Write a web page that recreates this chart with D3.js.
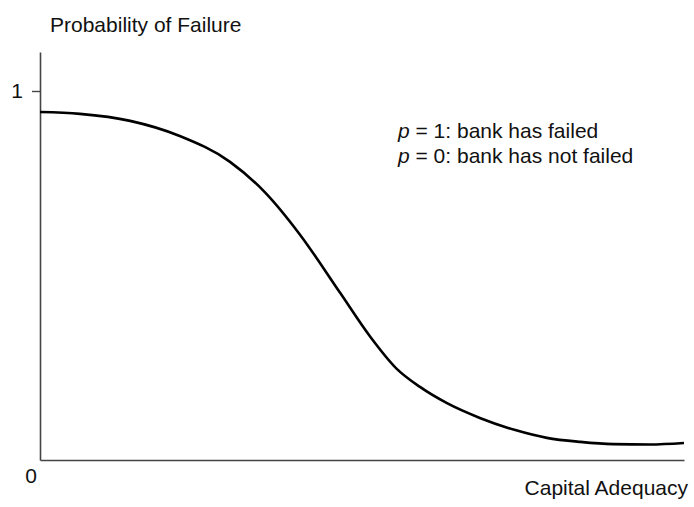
<!DOCTYPE html>
<html>
<head>
<meta charset="utf-8">
<script src="https://cdn.jsdelivr.net/npm/d3@7"></script>
<style>
  html, body { margin: 0; padding: 0; background: #fff; }
  svg { display: block; font-family: "Liberation Sans", Arial, Helvetica, sans-serif; }
</style>
</head>
<body>
<svg id="chart" width="694" height="507"></svg>
<script>
// Capital adequacy (0–100 scale) vs. probability of bank failure
const capitalAdequacy = [0, 6.2, 14.0, 21.7, 29.5, 34.9, 40.4, 46.6, 51.2, 55.4, 59.0, 63.2, 68.3, 73.8, 78.7, 83.9, 89.0, 94.7, 100];
const failureProb     = [0.943, 0.938, 0.919, 0.878, 0.808, 0.726, 0.610, 0.453, 0.336, 0.247, 0.198, 0.154, 0.114, 0.081, 0.060, 0.049, 0.043, 0.042, 0.046];
const yTickValues = [1];
const yTickLabels = ["1"];
const originLabel = "0";
const yTitle = "Probability of Failure";
const xTitle = "Capital Adequacy";
const notes = [
  { sym: "p", rest: " = 1: bank has failed" },
  { sym: "p", rest: " = 0: bank has not failed" }
];

const svg = d3.select("#chart");
const fontSize = 21;
const axisColor = "#444";

const x = d3.scaleLinear().domain([0, 100]).range([40, 684]);
const y = d3.scaleLinear().domain([0, 1]).range([460, 91]);
const yTop = 1.106;

// y axis: line from origin up past the "1" tick
const yAxis = d3.axisLeft(y.copy().domain([0, yTop]).range([460, y(yTop)]))
  .tickValues(yTickValues)
  .tickFormat((d, i) => yTickLabels[i])
  .tickSize(8)
  .tickSizeOuter(0)
  .tickPadding(9);

const gy = svg.append("g").attr("transform", `translate(${x(0)},0)`).call(yAxis);
gy.select(".domain").attr("stroke", axisColor).attr("stroke-width", 1.6);
gy.selectAll(".tick line").attr("stroke", axisColor).attr("stroke-width", 1.4);
gy.selectAll(".tick text").attr("fill", "#111").attr("font-size", fontSize)
  .attr("font-family", "Liberation Sans, Arial, sans-serif");

// x axis: plain baseline with no ticks
const xAxis = d3.axisBottom(x).tickValues([]).tickSizeOuter(0);
const gx = svg.append("g").attr("transform", `translate(0,${y(0)})`).call(xAxis);
gx.select(".domain").attr("stroke", axisColor).attr("stroke-width", 1.6);

// origin label
svg.append("text")
  .attr("x", x(0) - 9).attr("y", y(0) + 23)
  .attr("text-anchor", "middle")
  .attr("font-size", fontSize).attr("fill", "#111")
  .text(originLabel);

// axis titles
svg.append("text")
  .attr("x", 50).attr("y", 32)
  .attr("font-size", fontSize).attr("fill", "#111")
  .text(yTitle);

svg.append("text")
  .attr("x", 688).attr("y", 495)
  .attr("text-anchor", "end")
  .attr("font-size", fontSize).attr("fill", "#111")
  .text(xTitle);

// failure curve
const pts = capitalAdequacy.map((d, i) => [d, failureProb[i]]);
svg.append("path")
  .datum(pts)
  .attr("fill", "none")
  .attr("stroke", "#000")
  .attr("stroke-width", 2.6)
  .attr("d", d3.line().x(d => x(d[0])).y(d => y(d[1])).curve(d3.curveMonotoneX));

// annotation
const note = svg.append("text")
  .attr("x", 398).attr("y", 138)
  .attr("font-size", fontSize).attr("fill", "#111");
notes.forEach((n, i) => {
  const line = note.append("tspan").attr("x", 398).attr("dy", i === 0 ? 0 : 25);
  line.append("tspan").attr("font-style", "italic").text(n.sym);
  line.append("tspan").text(n.rest);
});
</script>
</body>
</html>
